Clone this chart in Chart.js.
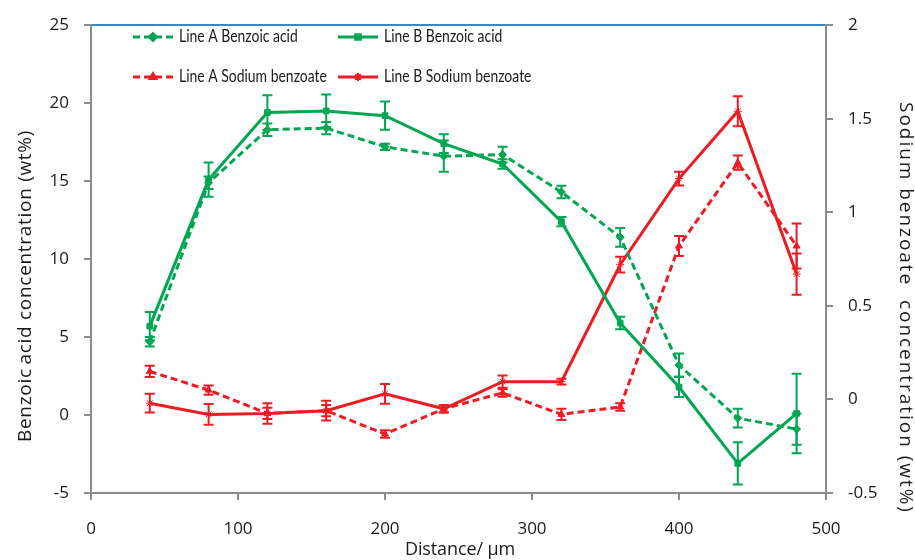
<!DOCTYPE html>
<html>
<head>
<meta charset="utf-8">
<script src="https://cdn.jsdelivr.net/npm/chart.js@4"></script>
<style>
  html, body { margin: 0; padding: 0; background: #fff; }
  #wrap { width: 915px; height: 560px; }
</style>
</head>
<body>
<div id="wrap"><canvas id="chart"></canvas></div>
<script>
// --- Data ---
const distance = [40, 80, 120, 160, 200, 240, 280, 320, 360, 400, 440, 480];

const benzoicA    = [4.7, 14.9, 18.3, 18.4, 17.2, 16.6, 16.7, 14.3, 11.4, 3.2, -0.2, -0.9];
const benzoicAErr = [0.3, 0.4, 0.4, 0.4, 0.2, 1.0, 0.5, 0.4, 0.6, 0.75, 0.6, 1.0];
const benzoicB    = [5.7, 15.1, 19.4, 19.5, 19.2, 17.4, 16.1, 12.4, 5.9, 1.8, -3.1, 0.1];
const benzoicBErr = [0.9, 1.1, 1.1, 1.05, 0.9, 0.6, 0.3, 0.3, 0.4, 0.65, 1.35, 2.55];

const sodiumA    = [0.15, 0.05, -0.075, -0.06, -0.185, -0.05, 0.035, -0.08, -0.04, 0.82, 1.265, 0.82];
const sodiumAErr = [0.03, 0.025, 0.03, 0.03, 0.02, 0.02, 0.02, 0.03, 0.02, 0.053, 0.038, 0.12];
const sodiumB    = [-0.02, -0.08, -0.075, -0.06, 0.03, -0.05, 0.095, 0.095, 0.72, 1.18, 1.54, 0.67];
const sodiumBErr = [0.05, 0.055, 0.055, 0.053, 0.053, 0.02, 0.033, 0.015, 0.042, 0.037, 0.08, 0.11];

const GREEN = '#00A651';
const RED   = '#ED1C24';
const AXIS  = '#8C8C8C';
const TXT   = '#1a1a1a';
const TICK_FONT = { family: 'Open Sans', size: 17 };

const toPoints = (ys) => ys.map((y, i) => ({ x: distance[i], y }));

// --- Error bars (drawn with the dataset's own scales) ---
const errorBars = {
    id: 'errorBars',
    afterDatasetsDraw(chart) {
        const { ctx } = chart;
        chart.data.datasets.forEach((ds) => {
            if (!ds.errors) return;
            const xs = chart.scales.x;
            const ys = chart.scales[ds.yAxisID];
            ctx.save();
            ctx.strokeStyle = ds.borderColor;
            ctx.lineWidth = 2;
            ctx.setLineDash([]);
            ds.data.forEach((p, j) => {
                const e = ds.errors[j];
                const px = xs.getPixelForValue(p.x);
                const top = ys.getPixelForValue(p.y + e);
                const bot = ys.getPixelForValue(p.y - e);
                ctx.beginPath();
                ctx.moveTo(px, top); ctx.lineTo(px, bot);
                ctx.moveTo(px - 5, top); ctx.lineTo(px + 5, top);
                ctx.moveTo(px - 5, bot); ctx.lineTo(px + 5, bot);
                ctx.stroke();
            });
            ctx.restore();
        });
    }
};

// --- Legend inside the plot ---
const insideLegend = {
    id: 'insideLegend',
    afterDraw(chart) {
        const { ctx } = chart;
        const cols = [133, 338];
        const rows = [37, 77];
        chart.data.datasets.forEach((ds, i) => {
            const x = cols[i % 2];
            const y = rows[Math.floor(i / 2)];
            ctx.save();
            ctx.strokeStyle = ds.borderColor;
            ctx.lineWidth = 3;
            ctx.setLineDash(ds.borderDash || []);
            ctx.beginPath();
            ctx.moveTo(x, y); ctx.lineTo(x + 40, y);
            ctx.stroke();
            ctx.setLineDash([]);
            ctx.fillStyle = ds.borderColor;
            ctx.lineWidth = 2;
            Chart.helpers.drawPoint(ctx, {
                pointStyle: ds.pointStyle, radius: ds.pointRadius, borderWidth: 2
            }, x + 20, y);
            ctx.fillStyle = TXT;
            ctx.font = '15px Lato';
            ctx.textBaseline = 'middle';
            ctx.translate(x + 46, y);
            ctx.scale(0.93, 1.12);
            ctx.fillText(ds.label, 0, 0);
            ctx.restore();
        });
    }
};

// --- Axis titles (placed like the original) ---
function drawTitle(ctx, text, x, y, rot, font, len) {
    ctx.save();
    ctx.font = font;
    ctx.fillStyle = TXT;
    ctx.textAlign = 'center';
    ctx.textBaseline = 'middle';
    const w = ctx.measureText(text).width;
    if (len && 'letterSpacing' in ctx) {
        ctx.letterSpacing = ((len - w) / text.length).toFixed(2) + 'px';
    }
    ctx.translate(x, y);
    ctx.rotate(rot);
    ctx.fillText(text, 0, 0);
    ctx.restore();
}

const axisTitles = {
    id: 'axisTitles',
    afterDraw(chart) {
        const { ctx } = chart;
        drawTitle(ctx, 'Benzoic\u2009acid concentration (wt%)', 26, 286, -Math.PI / 2, '19px "Open Sans"', 312);
        drawTitle(ctx, 'Sodium benzoate  concentration (wt%)', 905, 308, Math.PI / 2, '19px "Open Sans"', 412);
        drawTitle(ctx, 'Distance/ µm', 460, 550, 0, '18px "Open Sans"', 110);
    }
};

const lineSet = (label, ys, errs, color, dash, style, axis) => ({
    label,
    data: toPoints(ys),
    errors: errs,
    yAxisID: axis,
    borderColor: color,
    backgroundColor: color,
    borderWidth: 3,
    borderDash: dash,
    pointStyle: style,
    pointRadius: 4,
    pointBorderWidth: 1,
    tension: 0
});

new Chart(document.getElementById('chart'), {
    type: 'line',
    data: {
        datasets: [
            lineSet('Line A Benzoic acid', benzoicA, benzoicAErr, GREEN, [7, 4], 'rectRot', 'y'),
            lineSet('Line B Benzoic acid', benzoicB, benzoicBErr, GREEN, [], 'rect', 'y'),
            lineSet('Line A Sodium benzoate', sodiumA, sodiumAErr, RED, [7, 4], 'triangle', 'y2'),
            lineSet('Line B Sodium benzoate', sodiumB, sodiumBErr, RED, [], 'star', 'y2')
        ]
    },
    plugins: [errorBars, insideLegend, axisTitles],
    options: {
        responsive: true,
        maintainAspectRatio: false,
        animation: false,
        layout: { padding: { top: 20 } },
        plugins: {
            legend: { display: false },
            tooltip: { enabled: false }
        },
        scales: {
            x: {
                type: 'linear',
                position: 'bottom',
                min: 0, max: 500,
                ticks: { stepSize: 100, color: TXT, font: TICK_FONT, padding: 19 },
                grid: { drawOnChartArea: false, color: AXIS, tickLength: 7, lineWidth: 2 },
                border: { color: AXIS, width: 2 },
                afterFit: (s) => { s.height = 67; }
            },
            xTop: {
                type: 'linear',
                position: 'top',
                min: 0, max: 500,
                ticks: { display: false },
                grid: { display: false, drawTicks: false },
                border: { color: '#3A87C8', width: 2 },
                afterFit: (s) => { s.height = 0; }
            },
            y: {
                position: 'left',
                min: -5, max: 25,
                ticks: { stepSize: 5, color: TXT, font: TICK_FONT, padding: 15 },
                grid: { drawOnChartArea: false, color: AXIS, tickLength: 7, lineWidth: 2 },
                border: { color: AXIS, width: 2 },
                afterFit: (s) => { s.width = 91; }
            },
            y2: {
                position: 'right',
                min: -0.5, max: 2,
                ticks: { stepSize: 0.5, color: TXT, font: TICK_FONT, padding: 15, callback: (v) => String(v) },
                grid: { drawOnChartArea: false, color: AXIS, tickLength: 7, lineWidth: 2 },
                border: { color: AXIS, width: 2 },
                afterFit: (s) => { s.width = 89; }
            }
        }
    }
});
</script>
</body>
</html>
